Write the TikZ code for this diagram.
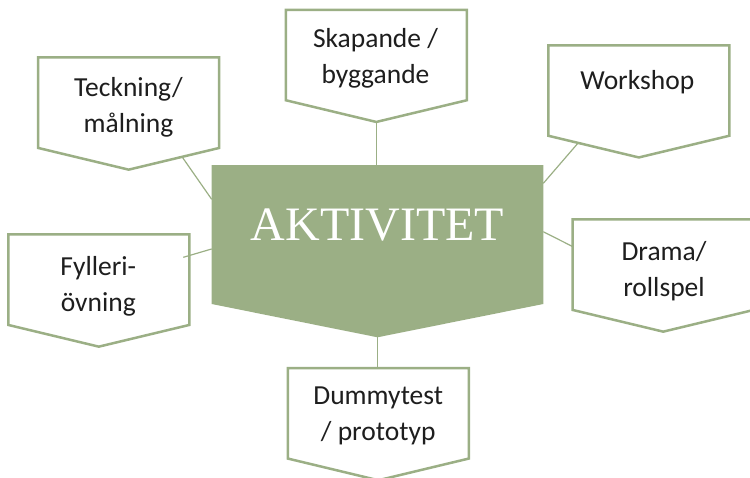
\documentclass[tikz,border=0pt]{standalone}
\usepackage{fontspec}
\setmainfont{Liberation Serif}
\newfontfamily\labelfont{Carlito}
\usetikzlibrary{calc}

\definecolor{sage}{HTML}{9BAF85}
\definecolor{ink}{HTML}{1E1E1E}

\tikzset{
  frame/.style={rectangle, minimum width=181pt, minimum height=90.5pt, inner sep=0pt, outer sep=0pt},
  hub/.style={rectangle, minimum width=331.6pt, minimum height=139pt, inner sep=0pt, outer sep=0pt},
  outline/.style={draw=sage, line width=2.5pt, fill=white},
  hubfill/.style={fill=sage},
  % multi-line captions are placed by the baseline of their last line
  caption/.style={font=\labelfont\fontsize{27.5}{36}\selectfont, text=ink, align=center, inner sep=0pt, anchor=base},
  hubtext/.style={font=\fontsize{48}{58}\selectfont, text=white, inner sep=0pt, anchor=base},
  link/.style={draw=sage, line width=1.2pt},
}

% pentagon pointing down, built on a rectangle node: #1 style, #2 node, #3 point depth
\newcommand\pentbox[3]{%
  \coordinate (#2-tip) at ($(#2.south)+(0,#3)$);
  \path[#1] (#2.north west) -- (#2.north east) -- (#2.south east) -- (#2-tip)
    -- (#2.south west) -- cycle;}

\begin{document}
\begin{tikzpicture}[x=1pt,y=-1pt]
\useasboundingbox (0,0) rectangle (750,477);

% rectangular bodies of the shapes
\node[hub]   (act) at (377.5,234.5) {};
\node[frame] (tk)  at (128.7,102.7) {};
\node[frame] (sk)  at (376.3,55)    {};
\node[frame] (ws)  at (638.8,90.5)  {};
\node[frame] (fy)  at (98.8,279.7)  {};
\node[frame] (dr)  at (663.2,264.7) {};
\node[frame] (dm)  at (378.3,413.3) {};

% outlines and fill
\pentbox{hubfill}{act}{33.3}
\pentbox{outline}{tk}{21.7}
\pentbox{outline}{sk}{21.7}
\pentbox{outline}{ws}{21.7}
\pentbox{outline}{fy}{21.7}
\pentbox{outline}{dr}{21.7}
\pentbox{outline}{dm}{21.7}

% labels
\node[hubtext] (act-label) at (377.5,240) {AKTIVITET};

\begin{scope}
  \clip (tk.north west) rectangle ($(tk.north east)+(0,79)$);
  \node[caption] (tk-label) at (128.5,132.5) {Teckning/\\målning};
\end{scope}
\begin{scope}
  \clip (sk.north west) rectangle ($(sk.north east)+(0,77.3)$);
  \node[caption] (sk-label) at (375.5,83.5) {Skapande /\\byggande};
\end{scope}
\node[caption] (ws-label) at (637.3,89.3) {Workshop};
\begin{scope}
  \clip (fy.north west) rectangle ($(fy.north east)+(0,81.7)$);
  \node[caption] (fy-label) at (98.3,311) {Fylleri-\\övning};
\end{scope}
\node[caption] (dr-label) at (664,296) {Drama/\\rollspel};
\node[caption] (dm-label) at (378.2,440.5) {Dummytest\\/ prototyp};

% connectors between the hub and the surrounding shapes
\draw[link] ($(tk.south east)!0.41!(tk-tip)$) -- ($(act.north west)!0.247!(act.south west)$);
\draw[link] (sk-tip) -- (sk-tip |- act.north);
\draw[link] ($(ws.south west)!0.33!(ws-tip)$) -- ($(act.north east)!0.132!(act.south east)$);
\draw[link] ($(fy.east)+(-6,-22.4)$) -- ($(act.north west)!0.604!(act.south west)$);
\draw[link] ($(act.north east)!0.48!(act.south east)$) -- ($(dr.north west)!0.3!(dr.south west)$);
\draw[link] (act-tip) -- (act-tip |- dm.north);
\end{tikzpicture}
\end{document}
